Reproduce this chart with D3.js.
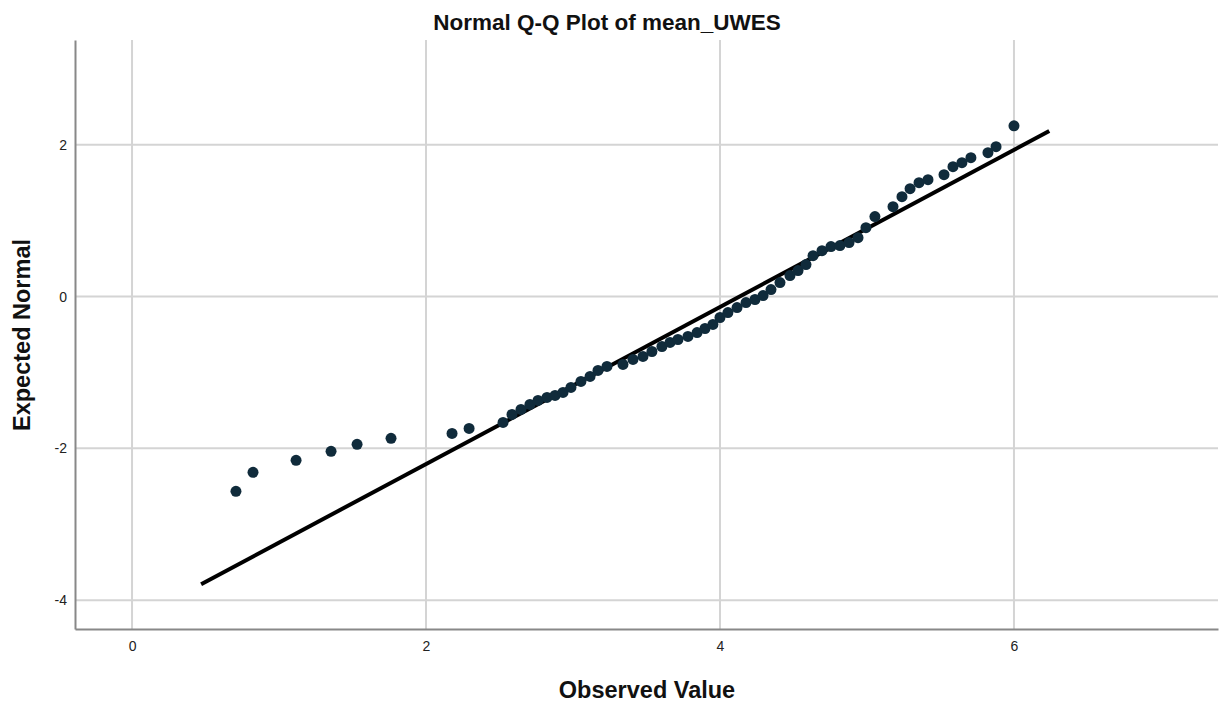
<!DOCTYPE html>
<html>
<head>
<meta charset="utf-8">
<script src="https://cdn.jsdelivr.net/npm/d3@7"></script>
<style>
  body { margin: 0; background: #fff; }
  text { font-family: "Liberation Sans", Arial, sans-serif; }
</style>
</head>
<body>
<div id="chart"></div>
<script>
const observed = [0.707, 0.823, 1.116, 1.354, 1.531, 1.762, 2.177, 2.293, 2.524, 2.585,
  2.646, 2.707, 2.762, 2.823, 2.878, 2.932, 2.986, 3.054, 3.116, 3.170,
  3.231, 3.340, 3.408, 3.476, 3.537, 3.605, 3.660, 3.714, 3.782, 3.844,
  3.898, 3.952, 4.000, 4.054, 4.116, 4.177, 4.238, 4.293, 4.347, 4.408,
  4.476, 4.531, 4.585, 4.633, 4.694, 4.755, 4.816, 4.878, 4.939, 4.993,
  5.054, 5.177, 5.238, 5.293, 5.354, 5.415, 5.524, 5.585, 5.646, 5.707,
  5.823, 5.878, 6.000];
const expected = [-2.566, -2.316, -2.158, -2.039, -1.947, -1.868, -1.803, -1.737, -1.658, -1.553,
  -1.487, -1.421, -1.368, -1.329, -1.303, -1.263, -1.197, -1.118, -1.053, -0.974,
  -0.921, -0.895, -0.829, -0.789, -0.724, -0.658, -0.605, -0.566, -0.526, -0.474,
  -0.421, -0.368, -0.276, -0.211, -0.145, -0.079, -0.039, 0.013, 0.092, 0.184,
  0.276, 0.342, 0.421, 0.539, 0.605, 0.658, 0.671, 0.711, 0.776, 0.908,
  1.053, 1.184, 1.316, 1.421, 1.500, 1.539, 1.605, 1.711, 1.763, 1.829,
  1.895, 1.974, 2.250];
// reference line end points
const lineX = [0.47, 6.24];
const lineY = [-3.79, 2.18];
const xTicks = [0, 2, 4, 6];
const yTicks = [-4, -2, 0, 2];

const W = 1227, H = 704;
const m = {left: 75, top: 40, right: 9, bottom: 75};

const svg = d3.select("#chart")
    .append("svg")
    .attr("width", W)
    .attr("height", H);

const x = d3.scaleLinear().domain([-0.388, 7.388]).range([m.left, W - m.right]);
const y = d3.scaleLinear().domain([-4.38, 3.38]).range([H - m.bottom, m.top]);

// grid
svg.append("g")
    .selectAll("line")
    .data(xTicks)
    .join("line")
    .attr("x1", d => x(d)).attr("x2", d => x(d))
    .attr("y1", m.top).attr("y2", H - m.bottom)
    .attr("stroke", "#d4d4d4")
    .attr("stroke-width", 2);

svg.append("g")
    .selectAll("line")
    .data(yTicks)
    .join("line")
    .attr("x1", m.left).attr("x2", W - m.right)
    .attr("y1", d => y(d)).attr("y2", d => y(d))
    .attr("stroke", "#d4d4d4")
    .attr("stroke-width", 2);

// axes
const xAxis = svg.append("g")
    .attr("transform", `translate(0,${H - m.bottom})`)
    .call(d3.axisBottom(x).tickValues(xTicks).tickSize(0).tickPadding(12));
const yAxis = svg.append("g")
    .attr("transform", `translate(${m.left},0)`)
    .call(d3.axisLeft(y).tickValues(yTicks).tickSize(0).tickPadding(8)
        .tickFormat(d => d < 0 ? "-" + Math.abs(d) : d));

[xAxis, yAxis].forEach(g => {
    g.attr("font-size", null);
    g.select(".domain").attr("stroke", "#888").attr("stroke-width", 2);
    g.selectAll("text")
        .attr("fill", "#222")
        .style("font-size", "14px")
        .style("font-family", "'Liberation Sans', Arial, sans-serif");
});

// reference line
svg.append("line")
    .attr("x1", x(lineX[0])).attr("y1", y(lineY[0]))
    .attr("x2", x(lineX[1])).attr("y2", y(lineY[1]))
    .attr("stroke", "#000")
    .attr("stroke-width", 4);

// points
svg.append("g")
    .selectAll("circle")
    .data(observed.map((v, i) => [v, expected[i]]))
    .join("circle")
    .attr("cx", d => x(d[0]))
    .attr("cy", d => y(d[1]))
    .attr("r", 5.5)
    .attr("fill", "#102b3b");

// titles
svg.append("text")
    .attr("x", 607).attr("y", 30)
    .attr("text-anchor", "middle")
    .attr("font-size", 22.5)
    .attr("font-weight", "bold")
    .attr("fill", "#111")
    .text("Normal Q-Q Plot of mean_UWES");

svg.append("text")
    .attr("x", 647).attr("y", 698)
    .attr("text-anchor", "middle")
    .attr("font-size", 23.5)
    .attr("font-weight", "bold")
    .attr("fill", "#111")
    .text("Observed Value");

svg.append("text")
    .attr("transform", "translate(30,335) rotate(-90)")
    .attr("text-anchor", "middle")
    .attr("font-size", 23.5)
    .attr("font-weight", "bold")
    .attr("fill", "#111")
    .text("Expected Normal");
</script>
</body>
</html>
